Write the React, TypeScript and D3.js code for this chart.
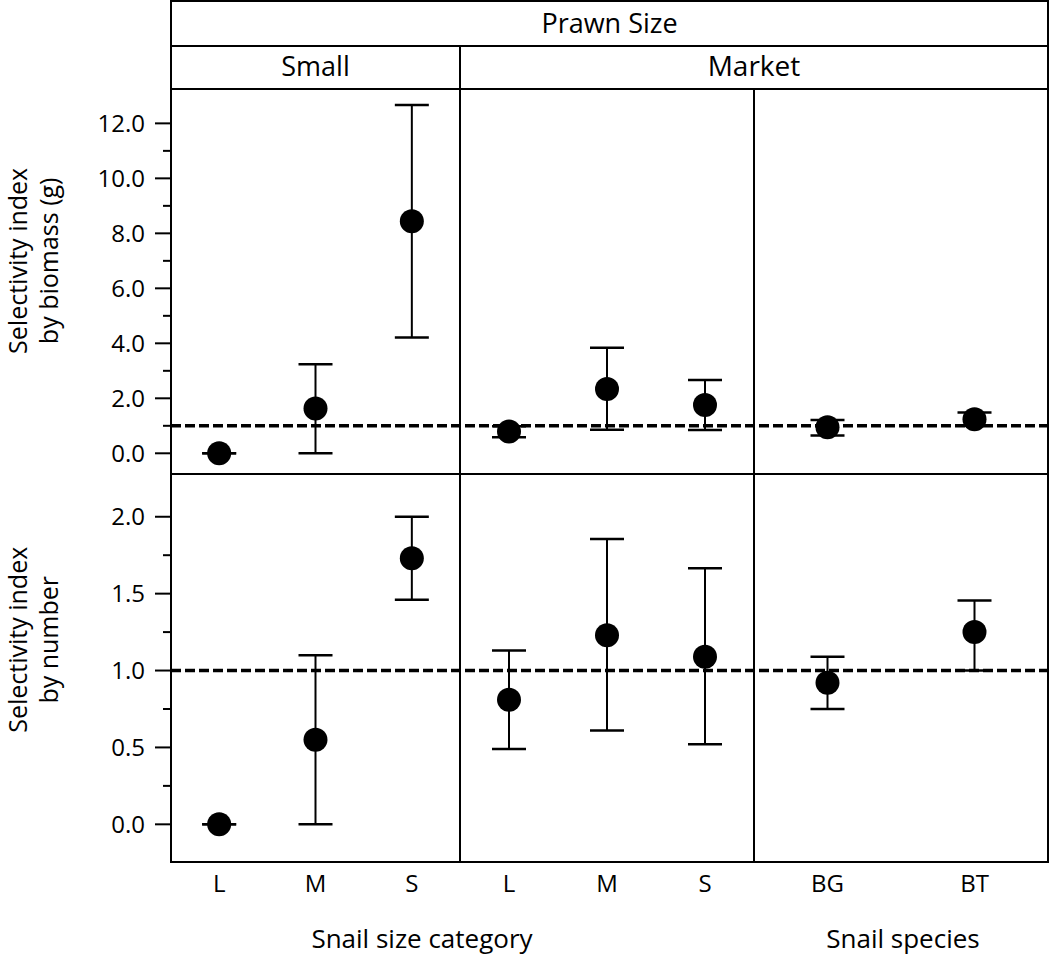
import React from "react";
import * as d3 from "d3";

const sizeCats = ["L", "M", "S"];
const speciesCats = ["BG", "BT"];

// Top row: selectivity index by biomass (g)
const biomassSmallMean = [0.0, 1.63, 8.44];
const biomassSmallLo = [0.0, 0.0, 4.21];
const biomassSmallHi = [0.0, 3.24, 12.67];
const biomassMarketMean = [0.79, 2.34, 1.76];
const biomassMarketLo = [0.58, 0.86, 0.85];
const biomassMarketHi = [0.98, 3.84, 2.67];
const biomassSpeciesMean = [0.95, 1.24];
const biomassSpeciesLo = [0.65, 1.0];
const biomassSpeciesHi = [1.21, 1.48];

// Bottom row: selectivity index by number
const numberSmallMean = [0.0, 0.55, 1.73];
const numberSmallLo = [0.0, 0.0, 1.46];
const numberSmallHi = [0.0, 1.1, 2.0];
const numberMarketMean = [0.81, 1.23, 1.09];
const numberMarketLo = [0.49, 0.61, 0.52];
const numberMarketHi = [1.13, 1.855, 1.665];
const numberSpeciesMean = [0.92, 1.25];
const numberSpeciesLo = [0.75, 1.0];
const numberSpeciesHi = [1.09, 1.455];

const biomassMajorTicks = [0, 2, 4, 6, 8, 10, 12];
const biomassMinorTicks = [1, 3, 5, 7, 9, 11];
const numberMajorTicks = [0, 0.5, 1.0, 1.5, 2.0];
const numberMinorTicks = [0.25, 0.75, 1.25, 1.75];
const referenceValue = 1.0;

const FONT = "'Open Sans', sans-serif";

export default function App() {
  const W = 1050;
  const H = 962;
  const left = 171;
  const right = 1048;
  const colEdges = [171, 460, 754, 1048];
  const headTop = 1;
  const headMid = 46;
  const panelTop = 89;
  const rowMid = 474;
  const panelBottom = 862;

  const yTop = d3.scaleLinear().domain([-0.753, 13.25]).range([rowMid, panelTop]);
  const yBot = d3.scaleLinear().domain([-0.245, 2.278]).range([panelBottom, rowMid]);

  const xCols = [
    d3.scalePoint<string>().domain(sizeCats).range([colEdges[0], colEdges[1]]).padding(0.5),
    d3.scalePoint<string>().domain(sizeCats).range([colEdges[1], colEdges[2]]).padding(0.5),
    d3.scalePoint<string>().domain(speciesCats).range([colEdges[2], colEdges[3]]).padding(0.5),
  ];

  const topSeries = [
    { cats: sizeCats, mean: biomassSmallMean, lo: biomassSmallLo, hi: biomassSmallHi },
    { cats: sizeCats, mean: biomassMarketMean, lo: biomassMarketLo, hi: biomassMarketHi },
    { cats: speciesCats, mean: biomassSpeciesMean, lo: biomassSpeciesLo, hi: biomassSpeciesHi },
  ];
  const botSeries = [
    { cats: sizeCats, mean: numberSmallMean, lo: numberSmallLo, hi: numberSmallHi },
    { cats: sizeCats, mean: numberMarketMean, lo: numberMarketLo, hi: numberMarketHi },
    { cats: speciesCats, mean: numberSpeciesMean, lo: numberSpeciesLo, hi: numberSpeciesHi },
  ];

  const fmt = d3.format(".1f");
  const capHalf = 17;

  const renderPoints = (series: typeof topSeries, y: d3.ScaleLinear<number, number>, key: string) =>
    series.map((s, ci) =>
      s.cats.map((c, i) => {
        const x = xCols[ci](c) as number;
        return (
          <g key={`${key}-${ci}-${i}`}>
            <line x1={x} x2={x} y1={y(s.lo[i])} y2={y(s.hi[i])} stroke="#000" strokeWidth={2} />
            <line x1={x - capHalf} x2={x + capHalf} y1={y(s.hi[i])} y2={y(s.hi[i])} stroke="#000" strokeWidth={2.5} />
            <line x1={x - capHalf} x2={x + capHalf} y1={y(s.lo[i])} y2={y(s.lo[i])} stroke="#000" strokeWidth={2.5} />
            <circle cx={x} cy={y(s.mean[i])} r={12} fill="#000" />
          </g>
        );
      })
    );

  const renderAxis = (
    y: d3.ScaleLinear<number, number>,
    major: number[],
    minor: number[],
    key: string
  ) => (
    <g key={key}>
      {major.map((t) => (
        <g key={`M${t}`}>
          <line x1={left - 16} x2={left} y1={y(t)} y2={y(t)} stroke="#000" strokeWidth={2} />
          <text x={left - 26} y={y(t)} dy="0.36em" textAnchor="end" fontSize={24} fontFamily={FONT} fill="#000">
            {fmt(t)}
          </text>
        </g>
      ))}
      {minor.map((t) => (
        <line key={`m${t}`} x1={left - 8} x2={left} y1={y(t)} y2={y(t)} stroke="#000" strokeWidth={2} />
      ))}
    </g>
  );

  const topTitleY = yTop(7);
  const botTitleY = yBot(1.2);

  return (
    <svg
      width={W}
      height={H}
      style={{ position: "absolute", left: 0, top: 0, background: "#fff" }}
    >
      <rect x={0} y={0} width={W} height={H} fill="#fff" />

      {/* reference dashed lines */}
      <line x1={left} x2={right} y1={yTop(referenceValue)} y2={yTop(referenceValue)} stroke="#000" strokeWidth={3.5} strokeDasharray="10,4" />
      <line x1={left} x2={right} y1={yBot(referenceValue)} y2={yBot(referenceValue)} stroke="#000" strokeWidth={3.5} strokeDasharray="10,4" />

      {renderPoints(topSeries, yTop, "top")}
      {renderPoints(botSeries, yBot, "bot")}

      {/* frame and strip lines */}
      <rect x={left} y={headTop} width={right - left} height={panelBottom - headTop} fill="none" stroke="#000" strokeWidth={2} />
      <line x1={left} x2={right} y1={headMid} y2={headMid} stroke="#000" strokeWidth={2} />
      <line x1={left} x2={right} y1={panelTop} y2={panelTop} stroke="#000" strokeWidth={2} />
      <line x1={left} x2={right} y1={rowMid} y2={rowMid} stroke="#000" strokeWidth={2} />
      <line x1={colEdges[1]} x2={colEdges[1]} y1={headMid} y2={panelBottom} stroke="#000" strokeWidth={2} />
      <line x1={colEdges[2]} x2={colEdges[2]} y1={panelTop} y2={panelBottom} stroke="#000" strokeWidth={2} />

      {/* strip labels */}
      <text x={(left + right) / 2} y={33} textAnchor="middle" fontSize={27} fontFamily={FONT} fill="#000">Prawn Size</text>
      <text x={(colEdges[0] + colEdges[1]) / 2} y={76} textAnchor="middle" fontSize={27} fontFamily={FONT} fill="#000">Small</text>
      <text x={(colEdges[1] + colEdges[3]) / 2} y={76} textAnchor="middle" fontSize={28} fontFamily={FONT} fill="#000">Market</text>

      {/* y axes */}
      {renderAxis(yTop, biomassMajorTicks, biomassMinorTicks, "ytop")}
      {renderAxis(yBot, numberMajorTicks, numberMinorTicks, "ybot")}

      <text transform={`translate(27,${topTitleY}) rotate(-90)`} textAnchor="middle" fontSize={25} fontFamily={FONT} fill="#000">Selectivity index</text>
      <text transform={`translate(58,${topTitleY}) rotate(-90)`} textAnchor="middle" fontSize={25} fontFamily={FONT} fill="#000">by biomass (g)</text>
      <text transform={`translate(27,${botTitleY}) rotate(-90)`} textAnchor="middle" fontSize={25} fontFamily={FONT} fill="#000">Selectivity index</text>
      <text transform={`translate(58,${botTitleY}) rotate(-90)`} textAnchor="middle" fontSize={25} fontFamily={FONT} fill="#000">by number</text>

      {/* x tick labels */}
      {xCols.map((sc, ci) =>
        sc.domain().map((c) => (
          <text key={`xt-${ci}-${c}`} x={sc(c) as number} y={892} textAnchor="middle" fontSize={24} fontFamily={FONT} fill="#000">
            {c}
          </text>
        ))
      )}

      {/* x titles */}
      <text x={422} y={948} textAnchor="middle" fontSize={26} fontFamily={FONT} fill="#000">Snail size category</text>
      <text x={903} y={948} textAnchor="middle" fontSize={26} fontFamily={FONT} fill="#000">Snail species</text>
    </svg>
  );
}
